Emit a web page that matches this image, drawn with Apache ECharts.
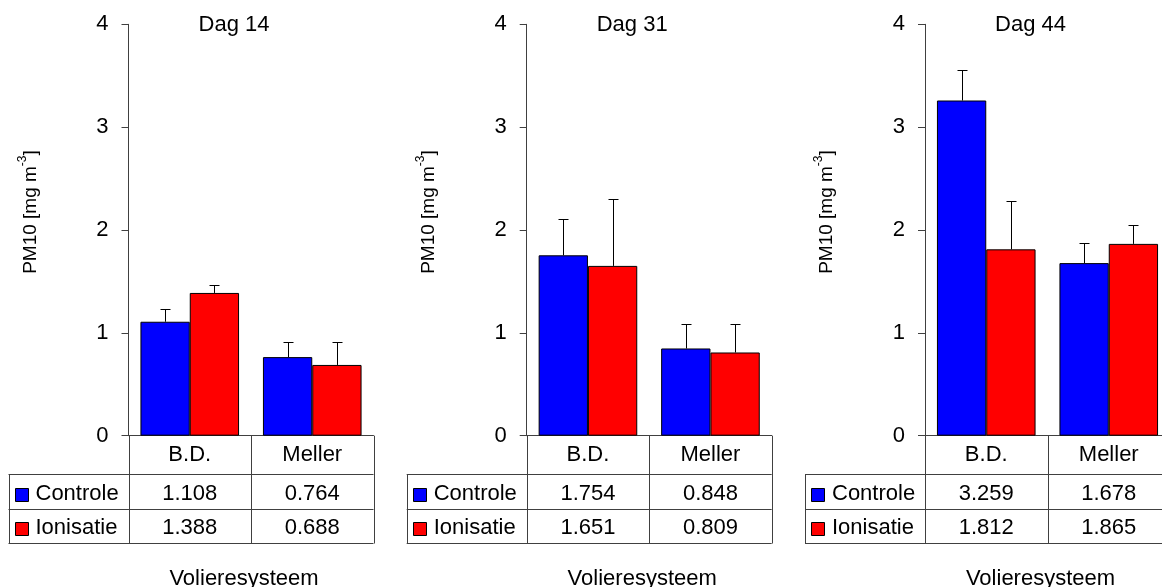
<!DOCTYPE html>
<html>
<head>
<meta charset="utf-8">
<script src="https://cdn.jsdelivr.net/npm/echarts@6/dist/echarts.min.js"></script>
<style>html,body{margin:0;padding:0;background:#fff}#c{width:1162px;height:587px}</style>
</head>
<body>
<div id="c"></div>
<script>
// ---- data ----
const categories = ['B.D.', 'Meller'];
const panelTitles = ['Dag 14', 'Dag 31', 'Dag 44'];
const seriesNames = ['Controle', 'Ionisatie'];
const xAxisTitle = 'Volieresysteem';
const controle14 = [1.108, 0.764];
const ionisatie14 = [1.388, 0.688];
const controle31 = [1.754, 0.848];
const ionisatie31 = [1.651, 0.809];
const controle44 = [3.259, 1.678];
const ionisatie44 = [1.812, 1.865];
const errControle14 = [0.128, 0.151];
const errIonisatie14 = [0.081, 0.220];
const errControle31 = [0.350, 0.239];
const errIonisatie31 = [0.646, 0.278];
const errControle44 = [0.296, 0.196];
const errIonisatie44 = [0.467, 0.181];
const yMin = 0, yMax = 4, yInterval = 1;

const panelValues = [[controle14, ionisatie14], [controle31, ionisatie31], [controle44, ionisatie44]];
const panelErrors = [[errControle14, errIonisatie14], [errControle31, errIonisatie31], [errControle44, errIonisatie44]];

// ---- layout / style ----
const FONT = '"Liberation Sans", Arial, sans-serif';
const LINE = '#404040';
const COLORS = ['#0000FF', '#FF0000'];
const gridLefts = [128.5, 526.7, 925];
const gridWidth = 245;
const gridTop = 24.3;
const gridHeight = 411.4;
const catGap = 0.195;
const legendW = 120;
const rowLines = [474, 509, 543];
const rowText = [494, 528];

const chart = echarts.init(document.getElementById('c'));

function makeErr(sign) {
  return function (params, api) {
    const ci = api.value(0), v = api.value(1), e = api.value(2);
    const b = api.coord([ci, v]);
    const t = api.coord([ci, v + e]);
    const cw = api.size([1, 0])[0];
    const bw = cw * (1 - catGap) / 2;
    const x = Math.round(b[0] + sign * bw / 2) + 0.5;
    const ty = Math.round(t[1]) + 0.5;
    return {
      type: 'group',
      children: [
        { type: 'line', shape: { x1: x, y1: b[1], x2: x, y2: ty }, style: { stroke: '#000', lineWidth: 1 } },
        { type: 'line', shape: { x1: x - 5, y1: ty, x2: x + 5, y2: ty }, style: { stroke: '#000', lineWidth: 1 } }
      ]
    };
  };
}

const grids = [], xAxes = [], yAxes = [], series = [];
for (let p = 0; p < 3; p++) {
  grids.push({ left: gridLefts[p], top: gridTop, width: gridWidth, height: gridHeight, containLabel: false, outerBoundsMode: 'none' });
  xAxes.push({
    type: 'category', gridIndex: p, data: categories,
    axisLine: { show: true, lineStyle: { color: LINE, width: 1 } },
    axisTick: { show: false },
    axisLabel: { fontSize: 22, color: '#000', fontFamily: FONT, margin: 19, verticalAlign: 'middle', interval: 0 },
    splitLine: { show: false }
  });
  yAxes.push({
    type: 'value', gridIndex: p, min: yMin, max: yMax, interval: yInterval,
    axisLine: { show: true, lineStyle: { color: LINE, width: 1 } },
    axisTick: { show: true, length: 7, inside: false, lineStyle: { color: LINE } },
    axisLabel: { fontSize: 22, color: '#000', fontFamily: FONT, margin: 20 },
    splitLine: { show: false }
  });
  for (let s = 0; s < 2; s++) {
    series.push({
      type: 'bar', name: seriesNames[s], xAxisIndex: p, yAxisIndex: p,
      data: panelValues[p][s],
      barGap: '0%', barCategoryGap: (catGap * 100) + '%',
      itemStyle: { color: COLORS[s], borderColor: '#000', borderWidth: 1 },
      emphasis: { disabled: true }, silent: true
    });
  }
  for (let s = 0; s < 2; s++) {
    series.push({
      type: 'custom', xAxisIndex: p, yAxisIndex: p, silent: true, z: 5,
      data: categories.map((c, i) => [i, panelValues[p][s][i], panelErrors[p][s][i]]),
      encode: { x: 0, y: 1 },
      renderItem: makeErr(s === 0 ? -1 : 1)
    });
  }
}

chart.setOption({
  animation: false,
  grid: grids, xAxis: xAxes, yAxis: yAxes, series: series
});

// measure text for rotated y-axis name
const mctx = document.createElement('canvas').getContext('2d');
function tw(text, size) { mctx.font = size + 'px ' + FONT; return mctx.measureText(text).width; }

function hl(x1, x2, y) { y = Math.round(y) + 0.5; return { type: 'line', silent: true, shape: { x1: x1, y1: y, x2: x2, y2: y }, style: { stroke: LINE, lineWidth: 1 } }; }
function vl(x, y1, y2) { x = Math.round(x) + 0.5; return { type: 'line', silent: true, shape: { x1: x, y1: y1, x2: x, y2: y2 }, style: { stroke: LINE, lineWidth: 1 } }; }
function txt(x, y, text, align, size) {
  return { type: 'text', silent: true, x: x, y: y, style: { text: text, fontSize: size || 22, fontFamily: FONT, fill: '#000', align: align || 'center', verticalAlign: 'middle' } };
}

const NAME_SIZE = 19, SUP_SIZE = 12;
const graphics = [];
for (let p = 0; p < 3; p++) {
  const c0 = chart.convertToPixel({ gridIndex: p }, [0, 0]);
  const c1 = chart.convertToPixel({ gridIndex: p }, [1, 0]);
  const cw = c1[0] - c0[0];
  const axisX = c0[0] - cw / 2, splitX = c0[0] + cw / 2, rightX = c1[0] + cw / 2, y0 = c0[1];
  const legL = axisX - legendW;
  const plotCenter = (axisX + rightX) / 2;
  rowLines.forEach(y => graphics.push(hl(legL, rightX, y)));
  graphics.push(vl(legL, Math.round(rowLines[0]) + 0.5, Math.round(rowLines[2]) + 0.5));
  graphics.push(vl(axisX, y0, Math.round(rowLines[2]) + 0.5));
  graphics.push(vl(splitX, y0, Math.round(rowLines[2]) + 0.5));
  graphics.push(vl(rightX, y0, Math.round(rowLines[2]) + 0.5));
  for (let s = 0; s < 2; s++) {
    graphics.push({ type: 'rect', silent: true, shape: { x: Math.round(legL) + 6.5, y: Math.round(rowText[s] - 6) + 0.5, width: 13, height: 13 }, style: { fill: COLORS[s], stroke: '#000', lineWidth: 1 } });
    graphics.push(txt(legL + 27, rowText[s], seriesNames[s], 'left'));
    for (let i = 0; i < categories.length; i++) {
      const cx = i === 0 ? c0[0] : c1[0];
      graphics.push(txt(cx, rowText[s], panelValues[p][s][i].toFixed(3), 'center'));
    }
  }
  graphics.push(txt(plotCenter - 17, 24.5, panelTitles[p], 'center'));
  graphics.push(txt(plotCenter - 7, 579, xAxisTitle, 'center'));
  // rotated y-axis name with superscript
  const a = 'PM10 [mg m', sup = '-3', b = ']';
  const wa = tw(a, NAME_SIZE), ws = tw(sup, SUP_SIZE), wb = tw(b, NAME_SIZE);
  const tot = wa + ws + wb;
  const x0 = -tot / 2;
  graphics.push({
    type: 'group', x: axisX - 98, y: 212, rotation: Math.PI / 2, silent: true,
    children: [
      { type: 'text', x: x0, y: 0, style: { text: a, fontSize: NAME_SIZE, fontFamily: FONT, fill: '#000', align: 'left', verticalAlign: 'middle' } },
      { type: 'text', x: x0 + wa, y: -8, style: { text: sup, fontSize: SUP_SIZE, fontFamily: FONT, fill: '#000', align: 'left', verticalAlign: 'middle' } },
      { type: 'text', x: x0 + wa + ws, y: 0, style: { text: b, fontSize: NAME_SIZE, fontFamily: FONT, fill: '#000', align: 'left', verticalAlign: 'middle' } }
    ]
  });
}
chart.setOption({ graphic: graphics });
</script>
</body>
</html>
